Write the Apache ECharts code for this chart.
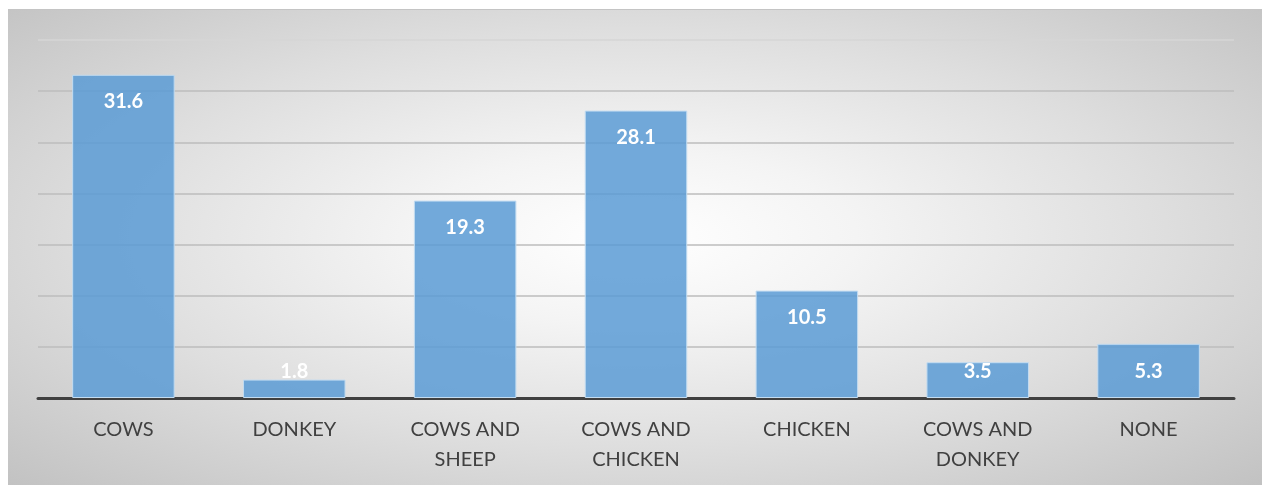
<!DOCTYPE html>
<html>
<head>
<meta charset="utf-8">
<script src="https://cdn.jsdelivr.net/npm/echarts@6/dist/echarts.min.js"></script>
<style>
  html, body { margin: 0; padding: 0; background: #ffffff; }
  #chart {
    position: absolute; left: 8px; top: 9px; width: 1254px; height: 476px;
    background: radial-gradient(ellipse farthest-corner at 50% 48%, #ffffff 0%, #f4f4f4 25%, #dedede 60%, #c2c2c2 100%);
    border-top: 1px solid #c4c4c4;
    box-sizing: border-box;
  }
</style>
</head>
<body>
<div id="chart"></div>
<script>
// Livestock ownership share (%) by category
const categories = ['COWS', 'DONKEY', 'COWS AND\nSHEEP', 'COWS AND\nCHICKEN', 'CHICKEN', 'COWS AND\nDONKEY', 'NONE'];
const shares = [31.6, 1.8, 19.3, 28.1, 10.5, 3.5, 5.3];
const yTicks = [0, 5, 10, 15, 20, 25, 30, 35];

const FONT = 'Lato, "Open Sans", sans-serif';
const chart = echarts.init(document.getElementById('chart'));

// Short bars keep their label at a fixed height above the axis instead of
// hanging it below the bar top
const barData = shares.map(v => v <= 5.3
  ? { value: v, label: { position: 'insideBottom', distance: 17 } }
  : v);

chart.setOption({
  animation: false,
  grid: { left: 30, right: 28, top: 30, bottom: 87, containLabel: false },
  xAxis: {
    type: 'category',
    data: categories,
    axisLine: { show: true, lineStyle: { color: '#404040', width: 3 } },
    axisTick: { show: false },
    axisLabel: {
      color: '#404040', fontFamily: FONT, fontSize: 20, lineHeight: 30,
      margin: 17, interval: 0, verticalAlign: 'top'
    },
    splitLine: { show: false }
  },
  yAxis: {
    type: 'value',
    min: yTicks[0],
    max: yTicks[yTicks.length - 1],
    interval: yTicks[1] - yTicks[0],
    axisLine: { show: false },
    axisTick: { show: false },
    axisLabel: { show: false },
    splitLine: {
      show: true,
      lineStyle: {
        color: ['#bdbdbd', '#bdbdbd', '#bdbdbd', '#bdbdbd', '#bdbdbd', '#bdbdbd', '#bdbdbd', '#d6d6d6'],
        width: 1.5
      }
    }
  },
  series: [{
    type: 'bar',
    data: barData,
    barCategoryGap: '40%',
    itemStyle: {
      color: 'rgba(91,155,213,0.85)',
      borderColor: '#c3dcf1',
      borderWidth: 1
    },
    label: {
      show: true,
      position: 'insideTop',
      distance: 18,
      color: '#ffffff',
      fontFamily: FONT,
      fontWeight: 'bold',
      fontSize: 20,
      lineHeight: 18
    }
  }]
});
</script>
</body>
</html>
